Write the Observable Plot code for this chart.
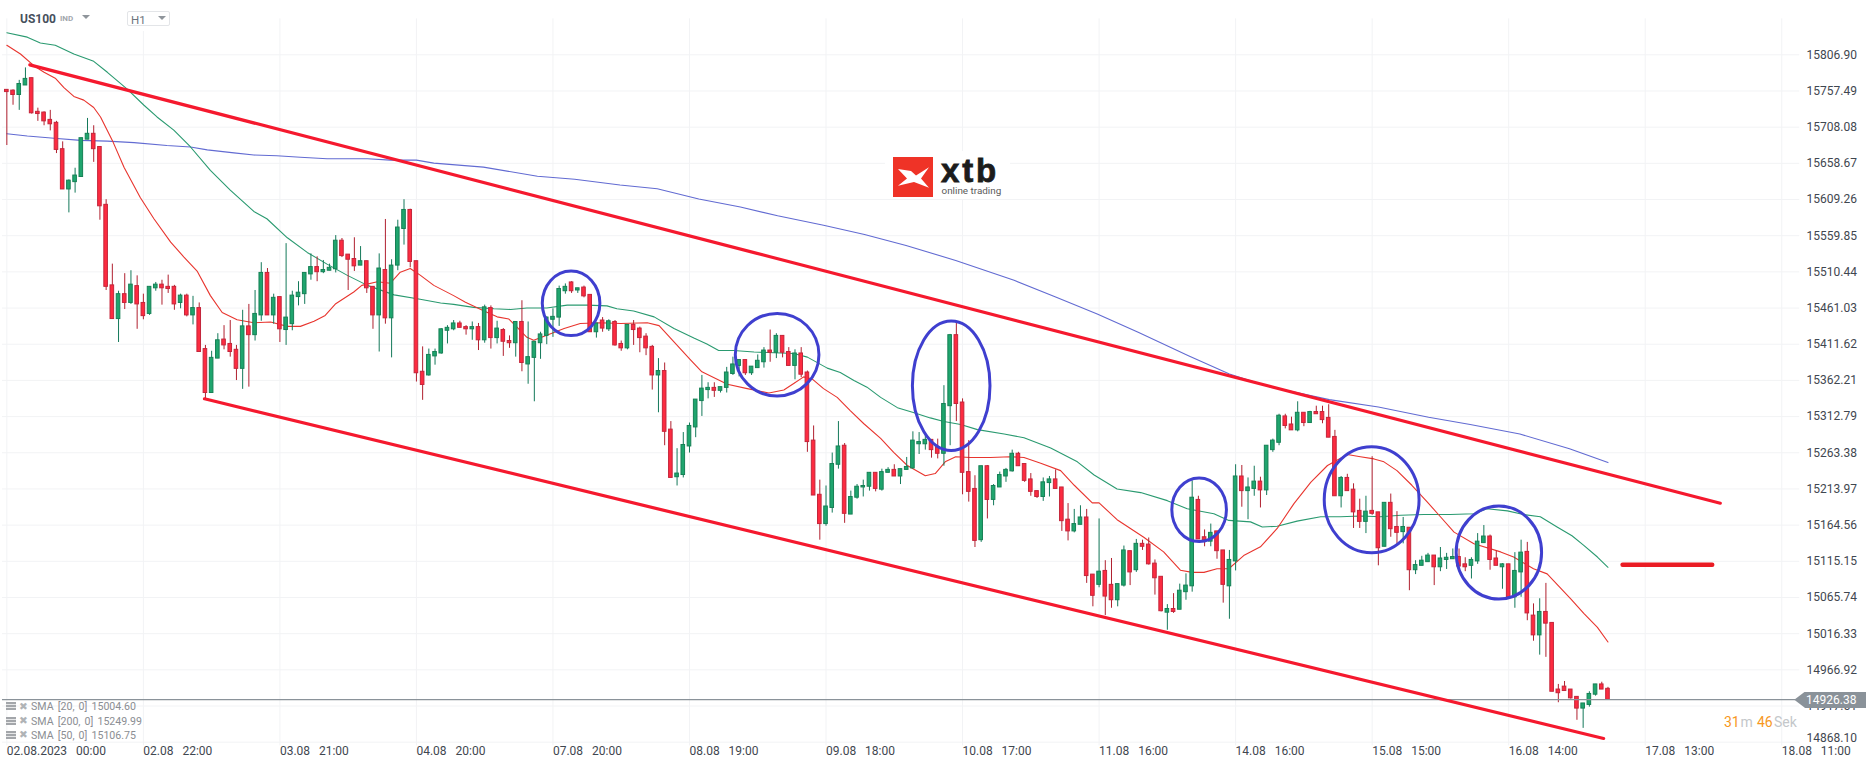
<!DOCTYPE html>
<html>
<head>
<meta charset="utf-8">
<script src="https://cdn.jsdelivr.net/npm/d3@7"></script>
<script src="https://cdn.jsdelivr.net/npm/@observablehq/plot@0.6"></script>
<style>
html,body{margin:0;padding:0;background:#fff;}
#page{position:relative;width:1866px;height:767px;overflow:hidden;font-family:Roboto,sans-serif;}
#page svg.plot{display:block;}
.abs{position:absolute;white-space:nowrap;}
</style>
</head>
<body>
<div id="page">
  <div id="chart"></div>
  <div class="abs" style="left:100px;top:0;width:80px;height:31px;background:#fff"></div>
  <div class="abs" style="left:20px;top:12px;font-size:12px;font-weight:700;color:#46505c;line-height:14px">US100</div>
  <div class="abs" style="left:60px;top:14px;font-size:8px;font-weight:700;color:#a2a7ad;line-height:10px">IND</div>
  <div class="abs" style="left:82px;top:15px;width:0;height:0;border-left:4px solid transparent;border-right:4px solid transparent;border-top:4.5px solid #8f959b"></div>
  <div class="abs" style="left:126.5px;top:10.5px;width:41px;height:13.5px;border:1px solid #e3e5e8;border-radius:2px;background:#fff"></div>
  <div class="abs" style="left:131px;top:13px;font-size:11.5px;color:#6d747c;line-height:14px">H1</div>
  <div class="abs" style="left:158px;top:16px;width:0;height:0;border-left:4px solid transparent;border-right:4px solid transparent;border-top:4.5px solid #8f959b"></div>

  <div class="abs" style="left:885px;top:151px;width:125px;height:48px;background:#fff"></div>
  <svg class="abs" style="left:893px;top:157px" width="40" height="40" viewBox="0 0 40 43" preserveAspectRatio="none">
    <rect width="40" height="43" fill="#ef3327"/>
    <polygon points="5,13 18,15 23,20 36,11 28,23 36,33 21,27 5,31 14,23" fill="#fff"/>
  </svg>
  <div class="abs" style="left:941px;top:157px;font-family:'Liberation Sans',sans-serif;font-size:33px;font-weight:700;letter-spacing:2.8px;color:#1c1c1c;line-height:27px;-webkit-text-stroke:0.8px #1c1c1c">xtb</div>
  <div class="abs" style="left:941.5px;top:185px;font-size:9.9px;color:#5a5a5a;line-height:11px">online trading</div>

  <div id="legend"></div>

  <div class="abs" style="left:1794.3px;top:691.5px;width:72px;height:16.5px;background:#8a9299;clip-path:polygon(0 50%,15% 0,100% 0,100% 100%,15% 100%)"></div>
  <div class="abs" style="left:1806px;top:692.5px;font-size:12px;color:#fff;line-height:15px">14926.38</div>
  <div class="abs" style="left:1724px;top:714px;font-size:14px;line-height:16px;color:#f7981d">31</div>
  <div class="abs" style="left:1740.5px;top:714px;font-size:14px;line-height:16px;color:#c4c7ca">m</div>
  <div class="abs" style="left:1757px;top:714px;font-size:14px;line-height:16px;color:#f7981d">46</div>
  <div class="abs" style="left:1774px;top:714px;font-size:14px;line-height:16px;color:#c4c7ca">Sek</div>
</div>
<script>
const high = [
15759,15759,15772,15789,15775,15734,15729,15731,15716,15688,
15636,15652,15693,15720,15710,15681,15609,15521,15484,15508,
15512,15505,15480,15490,15496,15499,15506,15492,15480,15480,
15477,15468,15410,15402,15426,15437,15444,15410,15458,15466,
15485,15523,15515,15480,15476,15549,15484,15497,15509,15535,
15531,15526,15521,15560,15556,15534,15557,15545,15525,15490,
15535,15582,15527,15581,15609,15596,15525,15408,15405,15405,
15433,15437,15444,15443,15437,15442,15440,15465,15464,15443,
15433,15423,15442,15471,15442,15415,15428,15449,15460,15491,
15494,15497,15488,15491,15479,15440,15448,15445,15444,15416,
15438,15444,15435,15426,15410,15392,15386,15306,15269,15291,
15304,15336,15369,15359,15359,15353,15380,15394,15390,15390,
15381,15397,15407,15431,15426,15423,15407,15404,15407,15375,
15300,15226,15218,15263,15306,15276,15211,15220,15226,15236,
15236,15241,15243,15247,15241,15257,15292,15291,15287,15281,
15282,15355,15425,15443,15337,15280,15232,15245,15246,15220,
15237,15242,15267,15264,15248,15235,15211,15229,15231,15240,
15216,15194,15186,15191,15186,15097,15173,15116,15119,15084,
15136,15129,15145,15144,15147,15117,15094,15056,15071,15084,
15098,15225,15204,15158,15166,15156,15130,15130,15247,15246,
15229,15245,15230,15273,15282,15316,15316,15312,15333,15318,
15320,15327,15327,15329,15294,15231,15234,15221,15200,15204,
15258,15182,15195,15207,15183,15175,15161,15116,15122,15126,
15123,15134,15126,15132,15132,15120,15120,15153,15164,15151,
15129,15112,15111,15127,15144,15141,15057,15064,15085,15031,
14947,14951,14940,14930,14921,14937,14947,14950,14943];
const bodyHigh = [
15759,15758,15767,15774,15775,15729,15728,15718,15714,15678,
15635,15642,15693,15699,15699,15681,15602,15492,15480,15480,
15493,15491,15468,15490,15493,15493,15490,15490,15478,15478,
15461,15461,15405,15393,15417,15418,15412,15404,15436,15436,
15453,15509,15509,15475,15476,15448,15478,15482,15509,15517,
15517,15513,15516,15553,15553,15534,15528,15525,15525,15490,
15515,15513,15519,15571,15595,15595,15525,15374,15397,15401,
15432,15434,15440,15440,15435,15435,15435,15462,15461,15433,
15431,15416,15442,15442,15394,15415,15425,15448,15449,15487,
15490,15496,15488,15489,15479,15440,15444,15443,15442,15412,
15438,15438,15433,15422,15408,15375,15375,15295,15235,15274,
15300,15336,15351,15352,15352,15353,15373,15384,15390,15390,
15381,15389,15403,15403,15423,15423,15401,15399,15399,15373,
15280,15206,15190,15248,15272,15273,15203,15217,15218,15236,
15236,15237,15240,15240,15241,15244,15280,15278,15281,15281,
15271,15330,15424,15424,15332,15237,15214,15245,15245,15218,
15233,15240,15262,15262,15248,15227,15211,15223,15227,15227,
15216,15172,15166,15175,15175,15097,15101,15102,15083,15084,
15130,15129,15139,15139,15138,15112,15094,15050,15050,15075,
15082,15202,15199,15148,15154,15156,15130,15117,15231,15231,
15216,15224,15224,15273,15280,15314,15313,15302,15318,15318,
15319,15319,15319,15311,15285,15229,15229,15213,15184,15183,
15184,15182,15195,15195,15162,15162,15161,15110,15116,15123,
15123,15119,15120,15121,15121,15111,15117,15142,15149,15149,
15119,15111,15111,15102,15127,15128,15041,15046,15046,15031,
14940,14944,14940,14930,14921,14934,14947,14947,14941];
const bodyLow = [
15756,15752,15752,15765,15727,15726,15716,15712,15677,15623,
15623,15633,15640,15691,15678,15600,15490,15446,15446,15468,
15468,15466,15450,15453,15488,15488,15487,15466,15468,15451,
15451,15401,15345,15345,15392,15410,15401,15378,15378,15424,
15424,15451,15451,15451,15432,15431,15439,15476,15480,15507,
15510,15510,15512,15514,15532,15527,15518,15519,15488,15451,
15451,15447,15447,15519,15569,15524,15372,15356,15369,15395,
15399,15430,15432,15434,15432,15432,15417,15417,15420,15420,
15415,15413,15413,15386,15384,15393,15413,15423,15445,15448,
15484,15484,15485,15477,15428,15428,15433,15432,15410,15406,
15406,15431,15420,15406,15369,15369,15292,15229,15230,15233,
15272,15298,15334,15349,15348,15348,15352,15371,15382,15372,
15372,15379,15387,15400,15400,15400,15382,15382,15370,15278,
15205,15166,15166,15188,15247,15180,15179,15202,15216,15217,
15214,15213,15236,15231,15231,15240,15242,15275,15275,15267,
15262,15262,15327,15330,15236,15210,15143,15144,15199,15199,
15216,15231,15238,15245,15225,15210,15203,15203,15222,15214,
15170,15156,15156,15165,15095,15068,15083,15067,15062,15062,
15082,15100,15103,15135,15111,15092,15047,15045,15046,15049,
15073,15081,15145,15144,15142,15129,15083,15081,15115,15211,
15211,15214,15212,15212,15267,15277,15300,15294,15294,15304,
15304,15316,15308,15284,15204,15204,15211,15182,15169,15169,
15180,15133,15135,15159,15154,15155,15103,15103,15109,15114,
15107,15107,15117,15118,15108,15107,15109,15115,15140,15117,
15109,15107,15066,15066,15100,15044,15014,15014,15030,14937,
14935,14938,14928,14914,14914,14919,14933,14940,14926];
const low = [
15683,15738,15731,15765,15726,15716,15710,15703,15672,15623,
15591,15618,15640,15691,15660,15581,15485,15446,15414,15459,
15466,15432,15445,15451,15484,15465,15481,15458,15460,15449,
15438,15401,15336,15345,15392,15404,15394,15362,15350,15353,
15416,15443,15451,15439,15414,15410,15430,15464,15466,15499,
15497,15508,15512,15509,15530,15485,15511,15519,15481,15432,
15401,15439,15393,15512,15547,15516,15360,15335,15368,15383,
15398,15412,15430,15434,15424,15417,15403,15413,15405,15412,
15395,15406,15394,15374,15357,15333,15391,15411,15421,15436,
15480,15481,15481,15475,15428,15420,15428,15429,15409,15402,
15404,15410,15400,15396,15349,15318,15273,15229,15218,15229,
15263,15284,15313,15337,15339,15345,15345,15369,15367,15369,
15369,15379,15379,15387,15392,15393,15382,15363,15366,15264,
15205,15144,15163,15181,15241,15167,15179,15200,15203,15211,
15210,15211,15236,15231,15220,15240,15241,15261,15267,15256,
15255,15245,15273,15306,15206,15196,15134,15141,15173,15191,
15216,15223,15237,15245,15223,15204,15201,15197,15203,15214,
15156,15143,15154,15165,15085,15053,15079,15041,15051,15053,
15080,15082,15100,15130,15110,15069,15046,15021,15044,15049,
15062,15073,15145,15135,15135,15118,15058,15036,15102,15189,
15172,15204,15188,15205,15264,15273,15296,15294,15292,15299,
15304,15316,15303,15284,15204,15188,15211,15160,15160,15153,
15178,15109,15135,15148,15137,15139,15075,15097,15109,15114,
15082,15101,15104,15118,15108,15101,15091,15111,15140,15103,
15109,15077,15066,15051,15066,15034,15006,14987,14984,14937,
14922,14938,14927,14898,14887,14916,14931,14940,14926];
const direction =
"rrggrrrrrrggggrrrrgr"+"grrggrrrgrgrrggrrrgr"+"ggrgrgggggrgggrrrgrr"+"grgggrrrgggggrrgrgrg"+
"rrgrgggggggrgrrgrgrr"+"grrrrgrrggggggrggggr"+"gggrgrrgrrrrgggrgggg"+"rggrgggggrrggrrrrgrg"+
"gggrrrrggrrrggrrgrrg"+"grgrrrrgrgggrrgrrggr"+"ggrgggrrgrgrrrrgrrrg"+"rrgrrgrgggrgggrrgggr"+
"rgrggrrgrrrrrrgggrr";

const sma20Bar = [0,2.2,4.35,6,7.8,9.2,10.8,12.4,14,15.1,17,18.9,21.5,23.7,26.4,28.5,30.7,32.8,34.7,37.1,39.8,42.5,45.2,47.3,49.5,51.3,53,55.9,57.2,59.7,61.8,63.4,65,66.6,68.8,
72,73.9,76.9,79,80.9,82.2,83.8,84.9,87,89.8,92.4,95.7,98.9,103.2,105.1,107.5,110.2,112,116.1,119.3,122.8,125.2,126.8,128.4,129.8,131.6,133.8,135.9,138.1,140.8,
142.9,145.1,148,149.6,151.2,152.9,155.3,158.5,161.7,163.9,166.6,169.8,172,174.9,176,178.9,183.2,186.4,189.1,191,192.9,195,196.9,199.3,202,204.7,207.4,210.1,212.8,216,
218.1,220.3,221.9,224,226.4,228.9,231,233.2,236.4,240.7,242.8,246,248.2,252,254.1,256.3,258];
const sma20Value = [15820,15808,15792,15783,15775,15762,15750,15745,15735,15722,15690,15653,15612,15583,15551,15531,15511,15478,15455,15445,15441,15442,15436,15436,15443,15451,15467,15483,15492,15497,15495,15510,15515,15506,15492,
15478,15469,15457,15449,15446,15435,15421,15417,15424,15433,15440,15441,15440,15441,15437,15415,15390,15374,15357,15351,15345,15349,15358,15367,15364,15351,15339,15321,15303,15283,
15264,15246,15232,15235,15251,15258,15257,15257,15258,15257,15249,15239,15219,15195,15195,15172,15148,15128,15103,15100,15100,15105,15105,15123,15135,15160,15194,15223,15246,15261,
15258,15255,15251,15239,15219,15196,15176,15155,15139,15128,15121,15105,15098,15064,15044,15025,15005];

const sma50Bar = [0,3.3,5.4,7.8,10.8,14,16.2,19.4,22.1,24.2,26.9,29.6,32.8,36,39.8,41.9,45.2,48.4,51.6,54.8,58.1,62.4,66.6,69.9,
72,75.2,78.5,81.2,83.8,87,90.3,93.5,96.7,98.3,101,104.3,107.5,110.7,112.8,114.7,117.1,120.4,123.6,126.8,129,132.2,134.3,136.5,138.6,140.8,
143.5,146.2,148.8,151,153.7,156.4,160.7,163.9,168.2,172.5,175.2,178.9,182.7,187,190.2,194.5,196.9,200.4,202.3,204.7,207.9,211.7,214.9,
218.1,221.3,224.6,228.3,232.6,236.4,238.5,241.8,244.4,247.1,249.8,252.2,254.1,256.3,258];
const sma50Value = [15837,15831,15823,15820,15808,15798,15783,15760,15738,15722,15704,15681,15649,15622,15593,15583,15557,15537,15521,15506,15492,15479,15473,15468,
15466,15462,15460,15459,15461,15461,15465,15465,15464,15460,15457,15449,15433,15420,15412,15403,15403,15401,15400,15399,15394,15379,15373,15362,15353,15339,
15325,15318,15311,15306,15302,15295,15289,15284,15270,15251,15233,15214,15209,15198,15187,15180,15171,15169,15162,15163,15170,15176,15176,
15177,15176,15178,15179,15179,15180,15187,15184,15179,15176,15162,15150,15137,15121,15107];

const sma200Bar = [0,3.3,7.6,11.9,16.2,20.5,25.8,29.6,32.3,36.6,39.8,43.5,47.3,51.6,58.1,61.8,66,
68.8,76.8,85.5,91.5,98.8,104.8,111.5,118.2,124.2,131.6,138.2,144.9,152.9,162.3,169,175.7,182.3,190.4,197,203.7,213.1,221,229.1,235.8,243.8,251.8,258];
const sma200Value = [15699,15696,15693,15690,15689,15687,15683,15681,15677,15673,15670,15669,15667,15665,15665,15663,15663,
15659,15653.5,15641,15637,15629,15624,15610,15599,15587,15574,15561.5,15546.5,15526,15499,15476,15453,15428,15396,15371,15353,15336,15326,15312,15302,15289,15269,15250];

const upperChannelBar = [3.7,276.1];
const upperChannelPrice = [15793.2,15194.5];
const lowerChannelBar = [31.85,257.3];
const lowerChannelPrice = [15337.1,14873.2];
const targetBar = [260.35,274.8];
const targetPrice = [15110.4,15110.4];

const circleBar = [91,124.2,152.25,192.2,220,240.5];
const circleBarRadius = [4.64,6.74,6.25,4.4,7.64,6.88];
const circlePrice = [15466.8,15396.6,15354.2,15184.9,15198.6,15126.5];
const circlePriceRadius = [44.1,56.4,88.5,43.3,72.4,63.5];

const priceTicks = [15806.90,15757.49,15708.08,15658.67,15609.26,15559.85,15510.44,15461.03,15411.62,15362.21,15312.79,15263.38,15213.97,15164.56,15115.15,15065.74,15016.33,14966.92,14917.51,14868.10];
const timeTickBars = [0,22,44,66,88,110,132,154,176,198,220,242,264,286];
const timeTickLabels = ["02.08.2023   00:00","02.08   22:00","03.08   21:00","04.08   20:00","07.08   20:00","08.08   19:00","09.08   18:00","10.08   17:00","11.08   16:00","14.08   16:00","15.08   15:00","16.08   14:00","17.08   13:00","18.08   11:00"].map(s=>s.replace(/ /g,"\u00a0"));
const lastPrice = 14926.38;
const legendItems = ["SMA [20, 0] 15004.60","SMA [200, 0] 15249.99","SMA [50, 0] 15106.75"];

const bars = high.map((h,i)=>({i,high:h,low:low[i],top:bodyHigh[i],bottom:bodyLow[i],dir:direction[i]}));
const series = (xs,ys)=>xs.map((x,k)=>({x,y:ys[k]}));
const halfBody = 0.29;

const ellipses = (index,{x,y})=>{
  const g = d3.create("svg:g").attr("fill","none").attr("stroke","#3f3fcf").attr("stroke-width",3);
  circleBar.forEach((c,k)=>{
    g.append("ellipse")
      .attr("cx",x(c)).attr("cy",y(circlePrice[k]))
      .attr("rx",Math.abs(x(c+circleBarRadius[k])-x(c)))
      .attr("ry",Math.abs(y(circlePrice[k]+circlePriceRadius[k])-y(circlePrice[k])));
  });
  return g.node();
};

const tickColor="#3f4750";
const chart = Plot.plot({
  width:1866,height:767,margin:0,
  style:{fontFamily:"Roboto,sans-serif",background:"#fff",overflow:"visible"},
  x:{type:"linear",domain:[0,258],range:[6.33,6.33+258*6.206],axis:null},
  y:{type:"linear",domain:[15806.90,14868.10],range:[54.3,741.7],axis:null},
  marks:[
    Plot.ruleY(priceTicks,{x1:()=>-0.7,x2:()=>288.9,stroke:"#f2f3f5",strokeWidth:1}),
    Plot.ruleX(timeTickBars,{y1:()=>15856,y2:()=>14863,stroke:"#f2f3f5",strokeWidth:1}),
    Plot.line(series(sma200Bar,sma200Value),{x:"x",y:"y",stroke:"#626bd2",strokeWidth:1.1}),
    Plot.line(series(sma50Bar,sma50Value),{x:"x",y:"y",stroke:"#2a9a70",strokeWidth:1.1}),
    Plot.line(series(sma20Bar,sma20Value),{x:"x",y:"y",stroke:"#e8352e",strokeWidth:1.1}),
    Plot.ruleX(bars,{filter:d=>d.dir==="r",x:"i",y1:"low",y2:"high",stroke:"#b0202f",strokeWidth:1}),
    Plot.ruleX(bars,{filter:d=>d.dir==="g",x:"i",y1:"low",y2:"high",stroke:"#14795a",strokeWidth:1}),
    Plot.rect(bars,{filter:d=>d.dir==="r",x1:d=>d.i-halfBody,x2:d=>d.i+halfBody,y1:"bottom",y2:"top",fill:"#fd2b40",stroke:"#c4253a",strokeWidth:1}),
    Plot.rect(bars,{filter:d=>d.dir==="g",x1:d=>d.i-halfBody,x2:d=>d.i+halfBody,y1:"bottom",y2:"top",fill:"#1fa56e",stroke:"#168055",strokeWidth:1}),
    Plot.ruleY([lastPrice],{x1:()=>-0.7,x2:()=>288.3,stroke:"#8a9299",strokeWidth:1.2}),
    Plot.line(series(upperChannelBar,upperChannelPrice),{x:"x",y:"y",stroke:"#f5192e",strokeWidth:3.2}),
    Plot.line(series(lowerChannelBar,lowerChannelPrice),{x:"x",y:"y",stroke:"#f5192e",strokeWidth:3.2}),
    Plot.line(series(targetBar,targetPrice),{x:"x",y:"y",stroke:"#ea1c24",strokeWidth:4.4}),
    ellipses,
    Plot.text(priceTicks.slice(0,-1),{y:d=>d,text:d=>d.toFixed(2),frameAnchor:"right",dx:-60,textAnchor:"start",fontSize:12,fill:tickColor}),
    Plot.text(priceTicks.slice(-1),{y:d=>d,text:d=>d.toFixed(2),frameAnchor:"right",dx:-60,dy:-4,textAnchor:"start",fontSize:12,fill:tickColor}),
    Plot.text(timeTickBars,{x:d=>d,text:(d,k)=>timeTickLabels[k],frameAnchor:"bottom",lineAnchor:"middle",dy:-16.3,textAnchor:"start",fontSize:12,fill:tickColor})
  ]
});
document.getElementById("chart").appendChild(chart);

const legend = document.getElementById("legend");
const rowY=[707.3,721.7,735.7];
legendItems.forEach((t,k)=>{
  const y=rowY[k];
  legend.insertAdjacentHTML("beforeend",
   `<div class="abs" style="left:6px;top:${y-5}px;width:10px;height:8px;background:repeating-linear-gradient(#a3a6aa 0 2px,#e6e7e8 2px 3px)"></div>
    <div class="abs" style="left:19px;top:${y-7.5}px;font-family:'DejaVu Sans';font-size:10.5px;line-height:12px;color:#b0b3b6">✖</div>
    <div class="abs" style="left:31px;top:${y-7}px;font-size:10.6px;line-height:14px;color:#8b8e93;word-spacing:1.5px">${t}</div>`);
});
</script>
</body>
</html>
